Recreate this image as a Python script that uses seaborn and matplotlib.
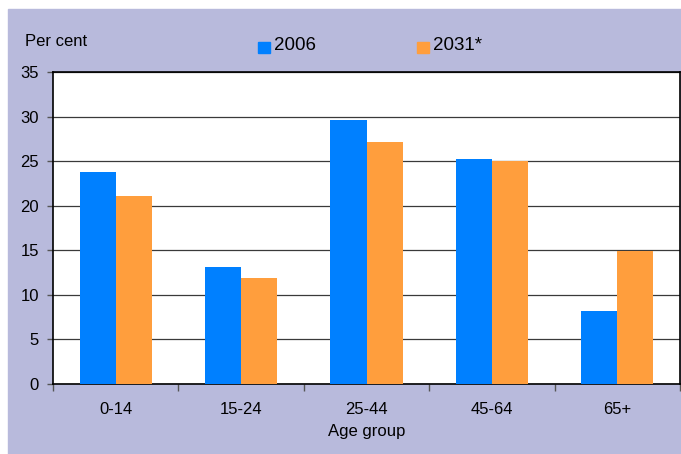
import numpy as np
import matplotlib
matplotlib.use("Agg")
import matplotlib.pyplot as plt
import seaborn as sns
import pandas as pd

# data
age_groups = ["0-14", "15-24", "25-44", "45-64", "65+"]
pct_2006 = [23.8, 13.1, 29.6, 25.2, 8.2]
pct_2031 = [21.1, 11.9, 27.1, 25.0, 14.9]
series = ["2006", "2031*"]

df = pd.DataFrame({
    "Age group": age_groups * 2,
    "value": pct_2006 + pct_2031,
    "year": [series[0]] * len(age_groups) + [series[1]] * len(age_groups),
})

sns.set_theme(style="white")
plt.rcParams["font.family"] = ["Liberation Sans", "DejaVu Sans"]
plt.rcParams["text.color"] = "black"
plt.rcParams["xtick.color"] = "black"
plt.rcParams["ytick.color"] = "black"
plt.rcParams["axes.labelcolor"] = "black"

bg = "#B8BADC"
fig = plt.figure(figsize=(6.81, 4.54), dpi=100)
fig.patch.set_facecolor("white")
# lavender panel
fig.patches.append(plt.Rectangle((8 / 681, 0), 1 - 8 / 681, 1 - 9 / 454,
                                 transform=fig.transFigure, color=bg, zorder=-5))

ax = fig.add_axes([53 / 681, 1 - 384 / 454, 627 / 681, 312 / 454])
ax.set_zorder(2)
ax.set_facecolor("white")

sns.barplot(data=df, x="Age group", y="value", hue="year",
            palette=["#0080FF", "#FF9E3D"], width=0.575, saturation=1,
            linewidth=0, edgecolor="none",
            ax=ax, legend=False, zorder=3)

ax.set_ylim(0, 35)
ax.set_yticks(np.arange(0, 36, 5))
ax.set_xlim(-0.5, 4.5)
ax.yaxis.grid(True, color="#3a3a3a", linewidth=0.9, zorder=1)
ax.set_axisbelow(True)

for s in ax.spines.values():
    s.set_visible(True)
    s.set_color("black")
    s.set_linewidth(1.2)

# x ticks between categories
ax.set_xticks(np.arange(-0.5, 4.6, 1), minor=False)
ax.set_xticklabels([])
ax.set_xticks(np.arange(0, 5), minor=True)
ax.set_xticklabels(age_groups, minor=True, fontsize=12)
ax.tick_params(axis="x", which="major", direction="out", length=5, width=1, color="#555555")
ax.tick_params(axis="x", which="minor", length=0, pad=13)
ax.tick_params(axis="y", direction="out", length=4, width=1, color="#555555", labelsize=12, pad=6)
ax.xaxis.set_ticks_position("bottom")
ax.yaxis.set_ticks_position("left")

ax.set_xlabel("Age group", fontsize=12, labelpad=5)
ax.set_ylabel("")

fig.text(25 / 681, 1 - 42 / 454, "Per cent", fontsize=12, va="center", ha="left")

# legend
for xs, col, lab in [(258, "#0080FF", series[0]), (417, "#FF9E3D", series[1])]:
    fig.patches.append(plt.Rectangle((xs / 681, 1 - 53 / 454), 12 / 681, 11 / 454,
                                     transform=fig.transFigure, color=col, zorder=2))
    fig.text((xs + 16) / 681, 1 - 46 / 454, lab, fontsize=13.5, va="center", ha="left")

fig.savefig("out.png", dpi=100)
